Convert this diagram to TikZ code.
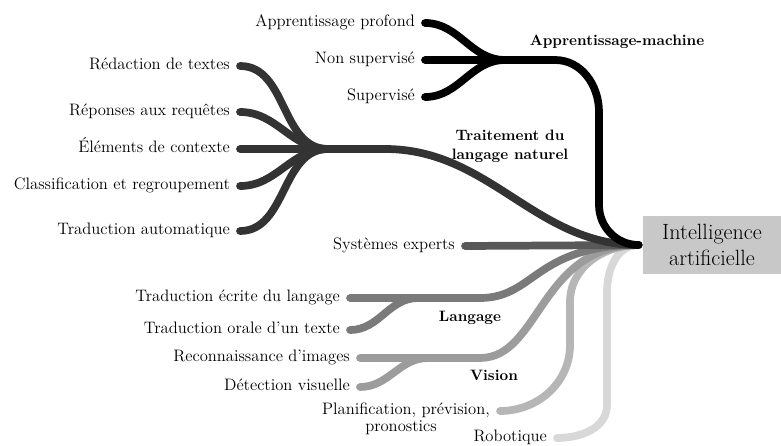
\documentclass[tikz,border=0pt]{standalone}
\usepackage{fontspec}
\usetikzlibrary{positioning}
\definecolor{shade1}{HTML}{000000}
\definecolor{shade2}{HTML}{333333}
\definecolor{shade3}{HTML}{585858}
\definecolor{shade4}{HTML}{7A7A7A}
\definecolor{shade5}{HTML}{9C9C9C}
\definecolor{shade6}{HTML}{B6B6B6}
\definecolor{shade7}{HTML}{D8D8D8}
\definecolor{boxgray}{HTML}{C8C8C8}
\begin{document}
\begin{tikzpicture}[x=0.025cm,y=-0.025cm,
  leaf node/.style={anchor=east,inner xsep=7pt,inner ysep=1pt,text height=1.4ex,text depth=0.2ex,font=\fontsize{11.8}{14}\selectfont},
  group node/.style={align=center,font=\fontsize{10.7}{13.5}\selectfont\bfseries},
  branch/.style={line width=5.5pt,line cap=round}]
\useasboundingbox (0,0) rectangle (781,446);
%root
  \node[fill=boxgray,minimum width=98pt,minimum height=41pt,align=center,
    font=\fontsize{15.7}{19}\selectfont] (ai) at (712,245) {Intelligence\\artificielle};
  \coordinate (hub) at ([xshift=-3pt]ai.west);
%robotique
  \node[leaf node] (rob) at (557,438) {Robotique};
  \draw[branch,shade7] (rob.east) to[out=0,in=-90] (607,405) -- (607,292) to[out=90,in=180] (hub);
%planification
  \node[leaf node] (plan) at (500,411) {Planification, prévision,};
  \node[font=\fontsize{11.8}{14}\selectfont] (pron) at (401,428) {pronostics};
  \draw[branch,shade6] (plan.east) to[out=0,in=-90] (570,345) -- (570,302) to[out=90,in=180] (hub);
%vision
  \node[leaf node] (reco) at (360,358) {Reconnaissance d’images};
  \node[leaf node] (detv) at (360,387) {Détection visuelle};
  \coordinate (vis) at (428,358);
  \node[group node] at (494,375) {Vision};
  \draw[branch,shade5] (detv.east) to[out=0,in=180] (vis);
  \draw[branch,shade5] (reco.east) -- (vis) -- (480,358) .. controls (540,358) and (540,245) .. (hub);
%langage
  \node[leaf node] (tecr) at (350,298) {Traduction écrite du langage};
  \node[leaf node] (tora) at (350,330) {Traduction orale d’un texte};
  \coordinate (lang) at (418,298);
  \node[group node] at (470,318) {Langage};
  \draw[branch,shade4] (tora.east) to[out=0,in=180] (lang);
  \draw[branch,shade4] (tecr.east) -- (lang) -- (480,298) .. controls (535,298) and (535,245) .. (hub);
%systemes experts
  \node[leaf node] (sysx) at (465,246) {Systèmes experts};
  \draw[branch,shade3] (sysx.east) -- (hub);
%traitement du langage naturel
  \node[leaf node] (redac) at (240,66) {Rédaction de textes};
  \node[leaf node] (repo) at (240,112) {Réponses aux requêtes};
  \node[leaf node] (elem) at (240,149) {Éléments de contexte};
  \node[leaf node] (class) at (240,186) {Classification et regroupement};
  \node[leaf node] (trad) at (240,231) {Traduction automatique};
  \coordinate (tal) at (328,149);
  \node[group node] at (510,146) {Traitement du\\langage naturel};
  \draw[branch,shade2] (redac.east) to[out=0,in=180] (tal);
  \draw[branch,shade2] (repo.east) to[out=0,in=180] (tal);
  \draw[branch,shade2] (class.east) to[out=0,in=180] (tal);
  \draw[branch,shade2] (trad.east) to[out=0,in=180] (tal);
  \draw[branch,shade2] (elem.east) -- (tal) -- (385,149) .. controls (490,149) and (535,245) .. (hub);
%apprentissage-machine
  \node[leaf node] (appro) at (425,23) {Apprentissage profond};
  \node[leaf node] (nonsup) at (425,60) {Non supervisé};
  \node[leaf node] (sup) at (425,97) {Supervisé};
  \coordinate (appm) at (505,60);
  \node[group node] at (617,42) {Apprentissage-machine};
  \draw[branch,shade1] (appro.east) to[out=0,in=180] (appm);
  \draw[branch,shade1] (sup.east) to[out=0,in=180] (appm);
  \draw[branch,shade1] (nonsup.east) -- (appm) -- (555,60) to[out=0,in=90] (599,112) -- (599,205) to[out=-90,in=180] (hub);
\end{tikzpicture}
\end{document}
